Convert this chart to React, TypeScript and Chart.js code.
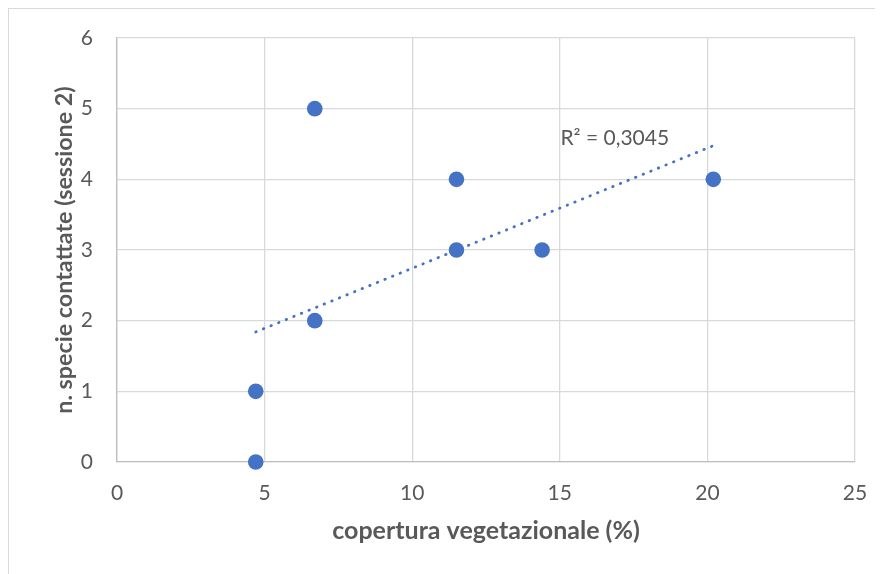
import { useEffect, useRef } from "react";
import { Chart, registerables } from "chart.js";

Chart.register(...registerables);

const coverage = [4.7, 4.7, 6.7, 6.7, 11.5, 11.5, 14.4, 20.2];
const species = [0, 1, 2, 5, 3, 4, 3, 4];
const xTitle = "copertura vegetazionale (%)";
const yTitle = "n. specie contattate (sessione 2)";
const r2Text = "R² = 0,3045";
const r2LabelAt = { x: 15.02, y: 4.58 };

const FONT = "Lato, 'Open Sans', sans-serif";
const TEXT = "#595959";
const BLUE = "#4472c4";
const GRID = "#d9d9d9";

function regression(xs: number[], ys: number[]) {
  const n = xs.length;
  const mx = xs.reduce((a, b) => a + b, 0) / n;
  const my = ys.reduce((a, b) => a + b, 0) / n;
  let sxy = 0;
  let sxx = 0;
  for (let i = 0; i < n; i++) {
    sxy += (xs[i] - mx) * (ys[i] - my);
    sxx += (xs[i] - mx) * (xs[i] - mx);
  }
  const slope = sxy / sxx;
  return { slope, intercept: my - slope * mx };
}

export default function App() {
  const ref = useRef<HTMLCanvasElement | null>(null);

  useEffect(() => {
    document.documentElement.style.overflow = "hidden";
    document.body.style.overflow = "hidden";
    const canvas = ref.current;
    if (!canvas) return;
    const { slope, intercept } = regression(coverage, species);
    const xMin = Math.min(...coverage);
    const xMax = Math.max(...coverage);
    const trend = [
      { x: xMin, y: intercept + slope * xMin },
      { x: xMax, y: intercept + slope * xMax },
    ];
    const points = coverage.map((x, i) => ({ x, y: species[i] }));

    const r2Plugin = {
      id: "r2label",
      afterDatasetsDraw(chart: any) {
        const { ctx, scales } = chart;
        const px = scales.x.getPixelForValue(r2LabelAt.x);
        const py = scales.y.getPixelForValue(r2LabelAt.y);
        ctx.save();
        ctx.font = `21px ${FONT}`;
        ctx.fillStyle = TEXT;
        ctx.textAlign = "left";
        ctx.textBaseline = "middle";
        ctx.fillText(r2Text, px, py);
        ctx.restore();
      },
    };

    const chart = new Chart(canvas, {
      type: "scatter",
      data: {
        datasets: [
          {
            type: "scatter",
            data: points,
            backgroundColor: BLUE,
            borderWidth: 0,
            pointRadius: 7.8,
            pointHoverRadius: 7.8,
            clip: false,
          } as any,
          {
            type: "line",
            data: trend,
            borderColor: BLUE,
            borderWidth: 2.8,
            borderDash: [0.5, 7.7],
            borderCapStyle: "round",
            pointRadius: 0,
            fill: false,
            clip: false,
          } as any,
        ],
      },
      plugins: [r2Plugin],
      options: {
        animation: false,
        responsive: true,
        maintainAspectRatio: false,
        events: [],
        layout: { padding: { top: 29, right: 28, left: 0, bottom: 0 } },
        plugins: { legend: { display: false }, tooltip: { enabled: false } },
        scales: {
          x: {
            type: "linear",
            min: 0,
            max: 25,
            ticks: { stepSize: 5, padding: 19, color: TEXT, font: { family: FONT, size: 21 } },
            grid: { color: GRID, lineWidth: 1.3, drawTicks: false },
            border: { display: true, color: "#bfbfbf", width: 1.3 },
            title: {
              display: true,
              text: xTitle,
              color: TEXT,
              font: { family: FONT, size: 25, weight: "bold" },
              padding: { top: 0, bottom: 28 },
            },
            afterFit(scale: any) {
              scale.height = 112;
              scale.paddingLeft = 0;
              scale.paddingRight = 0;
            },
          },
          y: {
            type: "linear",
            min: 0,
            max: 6,
            ticks: { stepSize: 1, padding: 24, color: TEXT, font: { family: FONT, size: 21 } },
            grid: { color: GRID, lineWidth: 1.3, drawTicks: false },
            border: { display: true, color: "#bfbfbf", width: 1.3 },
            title: {
              display: true,
              text: yTitle,
              color: TEXT,
              font: { family: FONT, size: 23.3, weight: "bold" },
              padding: { top: 41, bottom: 0 },
            },
            afterFit(scale: any) {
              scale.width = 108;
              scale.paddingTop = 0;
              scale.paddingBottom = 0;
            },
          },
        },
      } as any,
    });
    return () => chart.destroy();
  }, []);

  return (
    <div
      style={{
        width: 874,
        height: 565,
        border: "1px solid #d9d9d9",
        position: "relative",
        background: "#fff",
      }}
    >
      <canvas ref={ref} />
    </div>
  );
}
